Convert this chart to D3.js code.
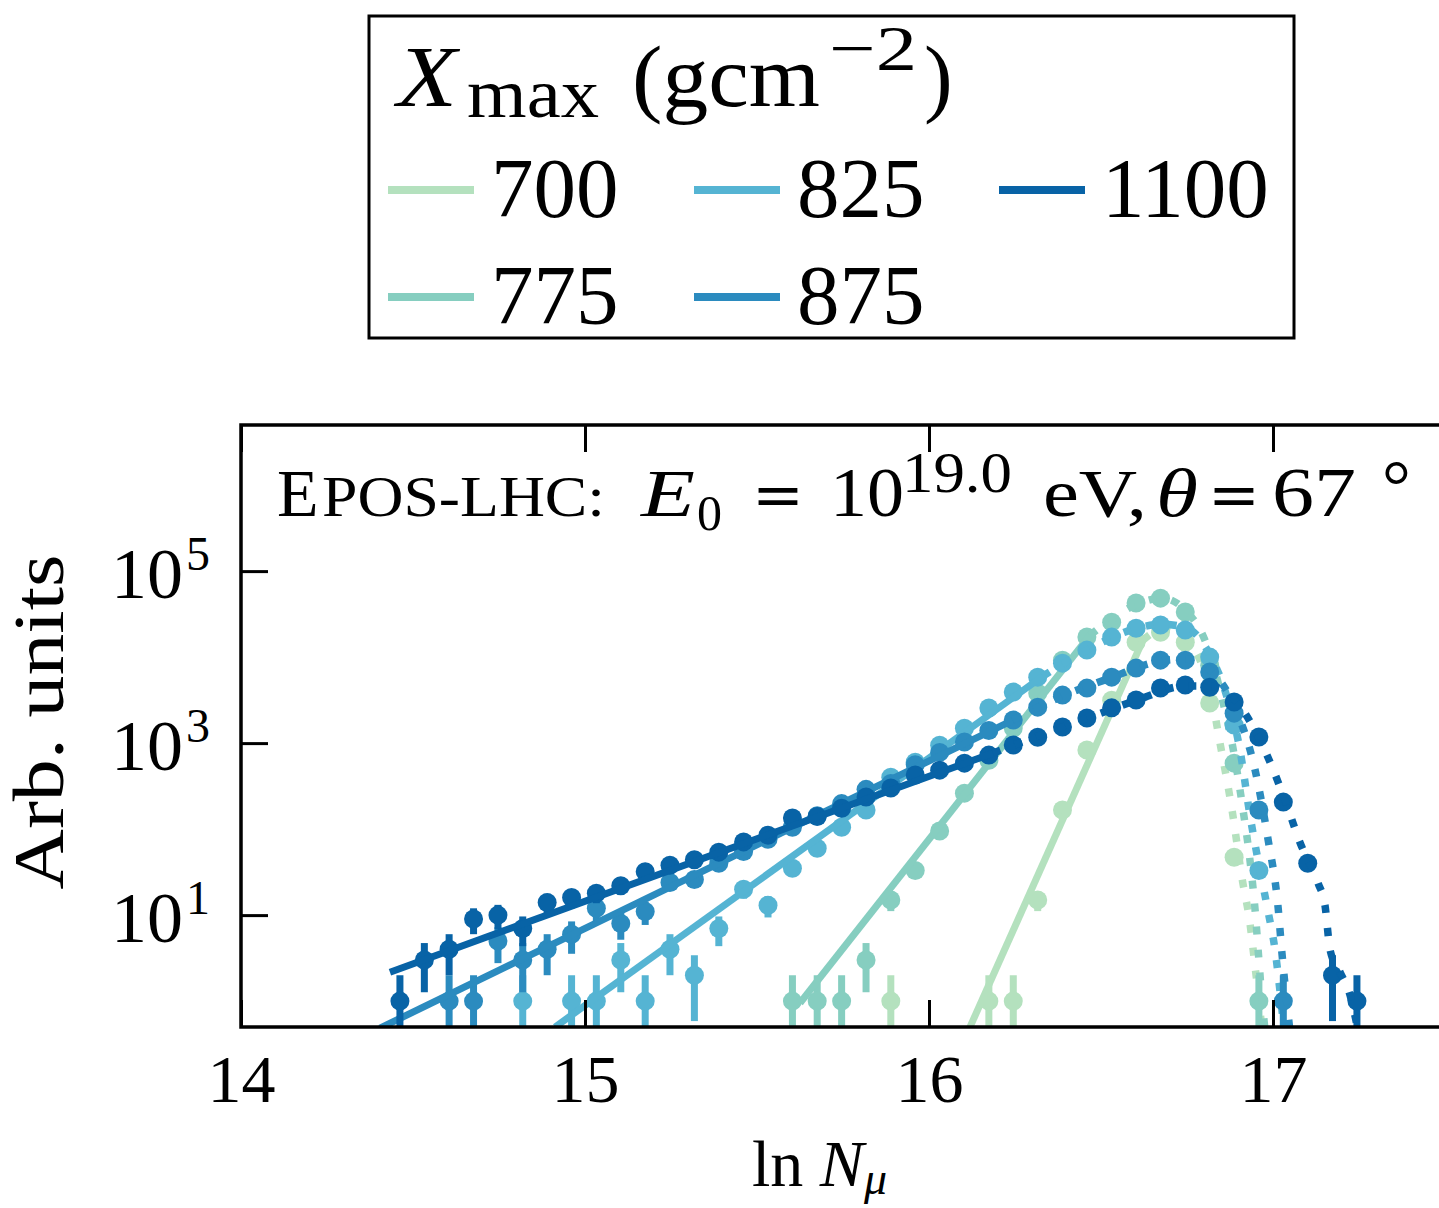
<!DOCTYPE html>
<html><head><meta charset="utf-8">
<script src="https://cdn.jsdelivr.net/npm/d3@7"></script>
<style>body{margin:0;background:#fff} svg{display:block} text{font-family:"Liberation Serif",serif;fill:#000}</style>
</head><body>
<svg id="chart" width="1439" height="1208"></svg>
<script>
// ---------- data ----------
const lnNBins = [14.462,14.533,14.605,14.676,14.747,14.819,14.890,14.961,15.033,15.104,
  15.175,15.247,15.318,15.389,15.461,15.532,15.603,15.675,15.746,15.817,
  15.889,15.960,16.031,16.103,16.174,16.245,16.316,16.388,16.459,16.531,
  16.602,16.673,16.745,16.816,16.887,16.959,17.030,17.101,17.173,17.244];
const xmaxLabels = ["700","775","825","875","1100"];
const seriesColors = ["#b4e1be","#86cec0","#55b4d3","#2b8bbf","#0863a6"];
const n = null;
const counts700 = [n,n,n,n,n,n,n,n,n,n, n,n,n,n,n,n,n,n,n,n,
  1,n,n,n,1,1,15,167,830,3160, 14900,19500,14900,2920,47,n,n,n,n,n];
const counts775 = [n,n,n,n,n,n,n,n,n,n, n,n,n,n,n,n,1,1,1,3,
  15,33,95,262,633,1500,3820,9220,17100,25500, 42500,48500,33400,8000,585,1,n,n,n,n];
const counts825 = [n,n,n,n,n,1,n,1,1,3, 1,4,2,7,20,13,35,60,105,167,
  400,600,945,1490,2560,3920,5850,8510,12060,17090, 21700,23570,20600,10000,1620,33,n,n,n,n];
const counts875 = [n,n,1,1,5,3,4,6,12,8, 11,24,26,40,55,76,105,143,198,290,
  340,560,780,1030,1400,1856,2620,3614,4360,5850, 7450,9220,9220,6700,2230,167,1,n,n,n];
const counts1100 = [1,3,4,9,10,7,14,16,18,22, 32,38,44,54,71,85,135,140,175,236,
  300,425,485,585,725,950,1170,1540,1960,2570, 3170,4380,4740,4460,3000,1180,206,40,2,1];
// exponential tail fits (solid): [lnN, value]
const fit700  = [[16.096,0.31],[16.622,15800]];
const fit775  = [[15.625,0.95],[16.468,18000]];
const fit825  = [[14.913,0.50],[16.331,6010]];
const fit875  = [[14.404,0.485],[16.244,1850]];
const fit1100 = [[14.433,2.17],[16.186,765]];
// model curves (dotted): [lnN, value]
const curve700 = [[16.622,15800],[16.686,21700],[16.750,15800],[16.788,9220],[16.817,4130],[16.846,1000],
  [16.881,166],[16.910,26.9],[16.933,8.07],[16.948,2.49],[16.959,1.03],[16.968,0.46]];
const curve775 = [[16.468,18000],[16.535,28400],[16.605,41300],[16.677,48500],[16.750,33400],[16.802,15800],
  [16.846,4130],[16.890,634],[16.913,166],[16.933,43.6],[16.948,11.4],[16.959,3],[16.968,1.03],[16.977,0.46]];
const curve825 = [[16.331,6010],[16.459,12060],[16.605,21700],[16.677,24200],[16.750,21700],[16.817,10550],
  [16.860,4130],[16.904,829],[16.933,145],[16.962,33.4],[16.985,11.4],[17.006,3.92],[17.020,1.34],[17.032,0.46]];
const curve875 = [[16.244,1850],[16.381,3428],[16.526,5700],[16.672,8980],[16.744,9480],[16.817,7060],
  [16.890,2550],[16.948,485],[16.985,78.6],[17.015,12.1],[17.026,3.62],[17.035,1.53],[17.049,0.46]];
const curve1100 = [[16.186,765],[16.323,1239],[16.468,2005],[16.613,3250],[16.744,4600],[16.817,4600],
  [16.890,3162],[16.962,1084],[17.035,217],[17.078,70.6],[17.131,23.6],[17.151,13.1],[17.166,3.92],
  [17.195,2.17],[17.224,1.17],[17.247,0.46]];
const xTicks = [14,15,16,17];
const yTicks = [1e1,1e3,1e5];
const yTickExp = ["1","3","5"];

// ---------- layout ----------
const svg = d3.select("#chart");
const P = {left:241, top:425, bottom:1027, right:1445};
const x = d3.scaleLinear().domain([14,17.5]).range([P.left,P.right]);
const y = d3.scaleLog().domain([0.5,5e6]).range([P.bottom,P.top]);

const series = [
  {label:xmaxLabels[0], color:seriesColors[0], counts:counts700,  fit:fit700,  curve:curve700},
  {label:xmaxLabels[1], color:seriesColors[1], counts:counts775,  fit:fit775,  curve:curve775},
  {label:xmaxLabels[2], color:seriesColors[2], counts:counts825,  fit:fit825,  curve:curve825},
  {label:xmaxLabels[3], color:seriesColors[3], counts:counts875,  fit:fit875,  curve:curve875},
  {label:xmaxLabels[4], color:seriesColors[4], counts:counts1100, fit:fit1100, curve:curve1100}
];

svg.append("defs").append("clipPath").attr("id","clip").append("rect")
  .attr("x",P.left).attr("y",P.top).attr("width",P.right-P.left).attr("height",P.bottom-P.top);

const gData = svg.append("g").attr("clip-path","url(#clip)");
const lineGen = d3.line().x(d=>x(d[0])).y(d=>y(d[1]));
const curveGen = d3.line().curve(d3.curveMonotoneX).x(d=>x(d[0])).y(d=>y(d[1]));

series.forEach(s=>{
  const g = gData.append("g");
  const pts = lnNBins.map((b,i)=>({x:b, v:s.counts[i]})).filter(d=>d.v!=null);
  g.selectAll("line.err").data(pts).join("line").attr("class","err")
    .attr("x1",d=>x(d.x)).attr("x2",d=>x(d.x))
    .attr("y1",d=>y(Math.max(d.v-Math.sqrt(d.v),0.05)))
    .attr("y2",d=>y(d.v+Math.sqrt(d.v)))
    .attr("stroke",s.color).attr("stroke-width",7);
  g.selectAll("circle").data(pts).join("circle")
    .attr("cx",d=>x(d.x)).attr("cy",d=>y(d.v)).attr("r",9.5).attr("fill",s.color);
  g.append("path").datum(s.fit).attr("d",lineGen)
    .attr("fill","none").attr("stroke",s.color).attr("stroke-width",7);
  g.append("path").datum(s.curve).attr("d",curveGen)
    .attr("fill","none").attr("stroke",s.color).attr("stroke-width",7.5)
    .attr("stroke-dasharray","8,15");
});

// ---------- axes ----------
const axB = svg.append("g").attr("transform",`translate(0,${P.bottom})`)
  .call(d3.axisBottom(x).tickValues(xTicks).tickSizeInner(-27).tickSizeOuter(0).tickFormat(d3.format("d")));
axB.select(".domain").remove();
axB.selectAll(".tick line").attr("stroke","#000").attr("stroke-width",3);
axB.selectAll(".tick text").attr("y",75).attr("dy",null)
  .style("font-family","Liberation Serif").style("font-size","68px").attr("fill","#000");

const axT = svg.append("g").attr("transform",`translate(0,${P.top})`)
  .call(d3.axisTop(x).tickValues(xTicks).tickSizeInner(-27).tickSizeOuter(0).tickFormat(()=>""));
axT.select(".domain").remove();
axT.selectAll(".tick line").attr("stroke","#000").attr("stroke-width",3);

const axL = svg.append("g").attr("transform",`translate(${P.left},0)`)
  .call(d3.axisLeft(y).tickValues(yTicks).tickSizeInner(-27).tickSizeOuter(0).tickFormat(()=>""));
axL.select(".domain").remove();
axL.selectAll(".tick line").attr("stroke","#000").attr("stroke-width",3);
axL.selectAll(".tick text").remove();
axL.selectAll(".tick").each(function(d,i){
  const t = d3.select(this).append("text").attr("x",-31).attr("y",26)
    .attr("text-anchor","end").style("font-size","72px");
  t.append("tspan").text("10");
  t.append("tspan").attr("dx",3).attr("dy",-28).style("font-size","48px").text(yTickExp[i]);
});

svg.append("rect").attr("x",P.left).attr("y",P.top)
  .attr("width",P.right-P.left).attr("height",P.bottom-P.top)
  .attr("fill","none").attr("stroke","#000").attr("stroke-width",3.5);

// axis labels
const xl = svg.append("text").attr("x",752).attr("y",1186).style("font-size","66px");
xl.append("tspan").text("ln ");
xl.append("tspan").style("font-style","italic").text("N");
xl.append("tspan").attr("dy",8).style("font-size","46px").style("font-style","italic").text("μ");

svg.append("text").attr("transform","translate(63,722) rotate(-90)")
  .attr("text-anchor","middle").style("font-size","72px")
  .attr("textLength",335).attr("lengthAdjust","spacingAndGlyphs").text("Arb. units");

// title inside axes
function T(txt,xp,yp,size,opts={}){
  const t = svg.append("text").attr("x",xp).attr("y",yp).style("font-size",size+"px").text(txt);
  if(opts.italic) t.style("font-style","italic");
  if(opts.family) t.style("font-family",opts.family);
  if(opts.len) t.attr("textLength",opts.len).attr("lengthAdjust",opts.adj||"spacingAndGlyphs");
  if(opts.anchor) t.attr("text-anchor",opts.anchor);
  return t;
}
T("E",277,516,68);
T("POS-LHC:",322,516,56,{len:283});
T("E",641,516,68,{italic:true,len:54});
T("0",697,530,50);
T("=",778,516,62,{family:"DejaVu Serif",anchor:"middle"});
T("10",830,516,70,{len:74});
T("19.0",902,492,56,{len:110});
T("eV,",1043,516,68,{len:104});
T("θ",1156,516,68,{italic:true,len:42});
T("=",1234,516,62,{family:"DejaVu Serif",anchor:"middle"});
T("67",1272,516,70,{len:84});
T("°",1382,510,72);

// ---------- legend ----------
const lg = svg.append("g");
lg.append("rect").attr("x",369).attr("y",16).attr("width",925).attr("height",322)
  .attr("fill","#fff").attr("stroke","#000").attr("stroke-width",3);
T("X",397,106,86,{italic:true,len:60});
T("max",467,117,70,{len:132});
T("(gcm",632,106,86,{len:188});
T("−2",829,70,64,{len:88});
T(")",924,106,86);
const colX = [388,694,999], rowY = [190,297];
series.forEach((s,i)=>{
  const cx = colX[Math.floor(i/2)], cy = rowY[i%2];
  lg.append("line").attr("x1",cx).attr("x2",cx+86).attr("y1",cy).attr("y2",cy)
    .attr("stroke",s.color).attr("stroke-width",8);
  lg.append("text").attr("x",cx+103).attr("y",cy+27).style("font-size","85px").text(s.label);
});
</script>
</body></html>
